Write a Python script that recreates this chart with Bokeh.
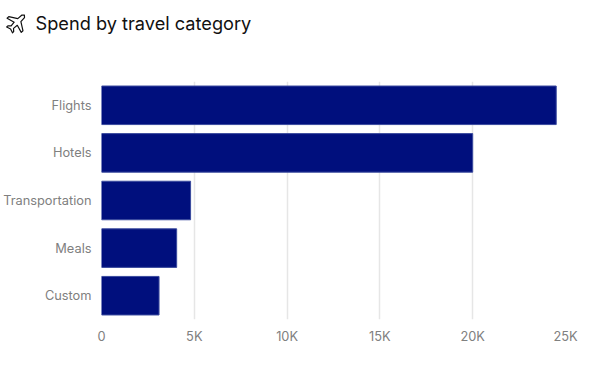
import math
from bokeh.plotting import figure
from bokeh.embed import file_html
from bokeh.resources import INLINE
from bokeh.core.properties import value
from bokeh.models import Range1d, FactorRange, CustomJSTickFormatter, FixedTicker

categories = ["Flights", "Hotels", "Transportation", "Meals", "Custom"]
spend = [24500, 20000, 4800, 4050, 3100]
ticks = [0, 5000, 10000, 15000, 20000, 25000]
title = "Spend by travel category"

W, H = 608, 370
HEAD = 44
FL, FB = 99.5, 319

# header strip with icon and title
head = figure(width=W, height=HEAD, output_backend="svg", toolbar_location=None,
              x_range=Range1d(0, W), y_range=Range1d(HEAD, 0),
              x_axis_type=None, y_axis_type=None,
              min_border=0, min_border_left=0, min_border_right=0, min_border_top=0, min_border_bottom=0)
head.outline_line_color = None
head.grid.visible = False
head.text(x=[35], y=[22.8], text=[title], text_font=value("Inter"), text_font_size="18.2px",
          text_color="#111111", text_baseline="middle", text_align="left")

# plane icon (outline), defined pointing up, rotated 45 degrees clockwise
shape = [(0, -10.5), (1.8, -8.8), (2.2, -3.3), (10, 1.6), (10, 4), (2.2, 1.8), (1.7, 6.6), (4.1, 8.8), (4.1, 10.5),
         (0, 9.1), (-4.1, 10.5), (-4.1, 8.8), (-1.7, 6.6), (-2.2, 1.8), (-10, 4), (-10, 1.6), (-2.2, -3.3), (-1.8, -8.8)]
a = math.radians(45)
cx, cy = 16.5, 22.0
xs = [cx + x * math.cos(a) - y * math.sin(a) for x, y in shape]
ys = [cy + x * math.sin(a) + y * math.cos(a) for x, y in shape]
head.patch(xs, ys, fill_alpha=0, line_color="#111111", line_width=1.2, line_join="round")

p = figure(width=W, height=H - HEAD, output_backend="svg", toolbar_location=None,
           y_range=FactorRange(factors=categories[::-1], range_padding=0),
           x_range=Range1d(0, 25000),
           min_border_left=int(FL), min_border_right=43, min_border_top=81 - HEAD, min_border_bottom=H - FB)
p.outline_line_color = None
p.background_fill_color = "white"
p.border_fill_color = "white"

p.hbar(y=categories, right=spend, left=0, height=0.81, fill_color="#000f7d", line_color="#3a4a9e", line_width=1)

p.ygrid.visible = False
p.xgrid.grid_line_color = "#e6e6e6"
p.xgrid.grid_line_width = 1.5
p.xgrid.ticker = FixedTicker(ticks=ticks)

for ax in (p.xaxis, p.yaxis):
    ax.axis_line_color = None
    ax.major_tick_line_color = None
    ax.minor_tick_line_color = None
    ax.major_tick_out = 0
    ax.major_label_text_font = "Inter"
    ax.major_label_text_font_size = "12.8px"
    ax.major_label_text_color = "#808080"

p.xaxis.ticker = FixedTicker(ticks=ticks)
p.xaxis.formatter = CustomJSTickFormatter(code="return tick == 0 ? '0' : (tick / 1000) + 'K';")
p.xaxis.major_label_standoff = 9
p.yaxis.major_label_standoff = 10

open("out.html", "w").write(file_html([head, p], INLINE))
